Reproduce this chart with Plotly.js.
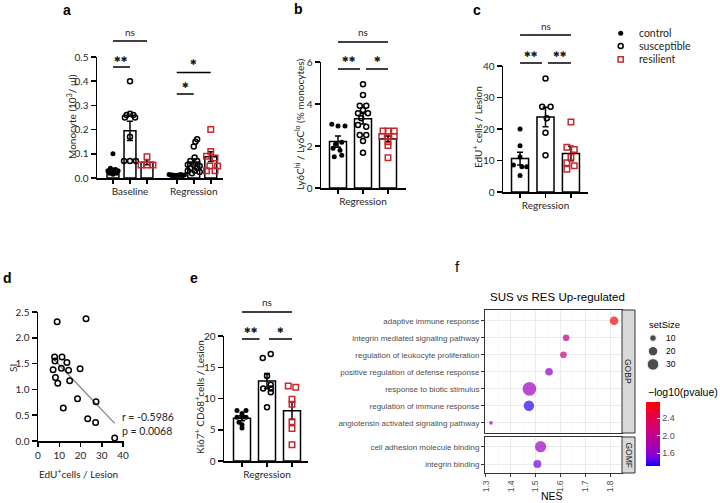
<!DOCTYPE html>
<html><head><meta charset="utf-8">
<script src="https://cdn.plot.ly/plotly-3.0.1.min.js"></script>
<style>html,body{margin:0;padding:0;background:#fff}#chart{width:720px;height:503px}</style>
</head><body><div id="chart"></div>
<script>
// ---------------- DATA ----------------
// Panel a: Monocyte (10^3/µl)
const aGroups = ['Baseline', 'Regression'];
const aMeans = [0.030, 0.195, 0.065, 0.012, 0.066, 0.088];
const aSems  = [0.010, 0.040, 0.010, 0.002, 0.012, 0.020];
const aBaseCtrl = [0.10, 0.04, 0.035, 0.03, 0.03, 0.025, 0.02, 0.02, 0.015];
const aBaseCtrlOff = [0, -0.15, 0.15, -0.3, 0.3, 0, -0.2, 0.2, 0];
const aBaseSus = [0.40, 0.26, 0.265, 0.26, 0.25, 0.25, 0.17, 0.07, 0.07, 0.07];
const aBaseSusOff = [0, -0.2, 0, 0.2, -0.3, 0.3, 0, -0.35, 0, 0.35];
const aBaseRes = [0.088, 0.054, 0.054, 0.054];
const aBaseResOff = [0, -0.35, 0, 0.35];
const aRegCtrl = [0.014, 0.012, 0.012, 0.010, 0.010, 0.011, 0.012, 0.014, 0.010, 0.012];
const aRegCtrlOff = [-0.45, -0.35, -0.25, -0.15, -0.05, 0.05, 0.15, 0.25, 0.35, 0.45];
const aRegSus = [0.16, 0.15, 0.13, 0.085, 0.07, 0.07, 0.055, 0.055, 0.05, 0.04, 0.04, 0.03, 0.03, 0.025, 0.02];
const aRegSusOff = [0.2, 0.1, 0, 0.05, -0.2, 0.2, -0.35, 0, 0.35, -0.2, 0.2, -0.35, 0.05, 0.35, -0.1];
const aRegRes = [0.20, 0.11, 0.09, 0.083, 0.05, 0.05, 0.03, 0.03];
const aRegResOff = [0, 0, -0.25, 0.25, -0.05, 0.4, -0.25, 0.25];

// Panel b: Ly6Chi / Ly6Clo (% monocytes)
const bMeans = [2.21, 3.30, 2.35];
const bSems  = [0.27, 0.25, 0.13];
const bCtrl = [3.03, 2.95, 2.95, 2.18, 2.08, 1.89, 1.80, 1.56, 1.49];
const bCtrlOff = [-0.25, 0, 0.28, 0.15, -0.1, -0.2, 0.08, 0.15, -0.15];
const bSus = [4.94, 4.43, 3.92, 3.92, 3.71, 3.56, 3.56, 3.32, 3.00, 2.92, 2.52, 2.52, 2.24, 1.68];
const bSusOff = [0, 0, -0.13, 0.13, 0, -0.2, 0.2, -0.07, -0.2, 0.13, -0.13, 0.13, 0, 0];
const bRes = [2.71, 2.71, 2.71, 2.45, 2.45, 2.45, 2.20, 2.02, 1.44];
const bResOff = [-0.2, 0, 0.25, -0.25, 0, 0.25, 0, 0, 0];

// Panel c: EdU+ cells / Lesion
const cMeans = [10.6, 23.8, 12.2];
const cSems  = [2.0, 3.1, 2.3];
const cCtrl = [20.0, 14.7, 11.1, 8.6, 8.0, 8.0, 5.2];
const cCtrlOff = [0, 0, 0, -0.26, 0.07, 0.26, 0];
const cSus = [36.0, 27.1, 27.1, 23.4, 18.8, 11.7];
const cSusOff = [0, -0.13, 0.2, 0.05, 0, 0];
const cRes = [22.2, 14.2, 13.5, 11.0, 9.3, 8.3, 7.2];
const cResOff = [0, -0.16, 0.13, 0, -0.16, 0.13, -0.16];

// Panel d: SI vs EdU+ cells / Lesion
const dEdU = [9.0, 22.6, 7.8, 8.0, 11.3, 13.6, 7.1, 11.0, 14.4, 19.8, 8.2, 14.9, 9.3, 18.6, 27.3, 11.9, 23.4, 27.1, 36.1];
const dSI  = [2.31, 2.37, 1.63, 1.55, 1.63, 1.52, 1.38, 1.41, 1.37, 1.40, 1.23, 1.17, 1.12, 0.82, 0.76, 0.64, 0.43, 0.36, 0.06];
const dStats = ['r = -0.5986', 'p = 0.0068'];

// Panel e: Ki67+ CD68+ cells / Lesion
const eMeans = [6.85, 12.8, 8.05];
const eSems  = [0.4, 1.2, 1.4];
const eCtrl = [8.1, 8.1, 7.6, 7.0, 7.0, 7.0, 6.2, 5.8, 5.3];
const eCtrlOff = [-0.2, 0.16, 0, -0.2, 0, 0.16, -0.12, 0, 0];
const eSus = [17.1, 16.5, 13.6, 12.2, 11.6, 11.6, 11.0, 8.6];
const eSusOff = [0.15, -0.17, 0, 0.15, -0.15, 0.15, 0.15, 0];
const eRes = [12.0, 11.8, 9.9, 9.1, 6.3, 5.2, 2.6];
const eResOff = [-0.15, 0.15, 0, 0, 0, 0, 0];

// Panel f: GSEA SUS vs RES
const fTermsBP = ['adaptive immune response', 'integrin mediated signaling pathway', 'regulation of leukocyte proliferation',
  'positive regulation of defense response', 'response to biotic stimulus', 'regulation of immune response',
  'angiotensin activated signaling pathway'];
const fNesBP  = [1.816, 1.623, 1.612, 1.554, 1.475, 1.473, 1.32];
const fSizeBP = [16, 10, 10, 13, 42, 24, 3];
const fPvBP   = [2.75, 2.0, 2.08, 1.62, 1.68, 1.39, 1.8];
const fTermsMF = ['cell adhesion molecule binding', 'integrin binding'];
const fNesMF  = [1.52, 1.507];
const fSizeMF = [28, 14];
const fPvMF   = [1.68, 1.5];
const fLegendSizes = [10, 20, 30];
const fCbTicks = [1.6, 2.0, 2.4];

const groupNames = ['control', 'susceptible', 'resilient'];

// ---------------- HELPERS ----------------
const W = 720, H = 503;
const X = p => p / W;
const Y = p => 1 - p / H;
const hd = (l, r) => [l / W, r / W];
const vd = (top, bot) => [1 - bot / H, 1 - top / H];
const FONT = 'Lato, "Open Sans", sans-serif';
const FF = '"Liberation Sans", Arial, sans-serif';
const RED = '#c8282d';
const TXT = '#262626';
const TICKF = {family: FONT, size: 10, color: TXT};

const styles = [
  {symbol: 'circle', size: 5, color: '#000', line: {width: 0}},
  {symbol: 'circle-open', size: 5, color: '#000', line: {width: 1.5}},
  {symbol: 'square-open', size: 5.5, color: RED, line: {width: 1.5}}
];

// tick-mark axis (one tick per bar, no labels)
function gpX(domain, range, tickvals, anchor, showLabels, ticktext) {
  return {domain, range, anchor, showline: true, linecolor: '#000', linewidth: 1.5,
    ticks: 'outside', ticklen: 4, tickwidth: 1.5, tickcolor: '#000',
    tickmode: 'array', tickvals, ticktext, showticklabels: !!showLabels, showgrid: false, zeroline: false,
    tickfont: TICKF, fixedrange: true};
}
// label-only axis overlaying a tick axis (group names at group centres)
function gpLab(overlay, range, tickvals, ticktext, anchor) {
  return {overlaying: overlay, range, anchor, side: 'bottom', showline: false,
    ticks: 'outside', ticklen: 4, tickwidth: 1, tickcolor: 'rgba(0,0,0,0)',
    tickmode: 'array', tickvals, ticktext, showgrid: false, zeroline: false,
    tickfont: TICKF, fixedrange: true};
}
function gpY(domain, range, tickvals, fmt, anchor) {
  return {domain, range, anchor, showline: true, linecolor: '#000', linewidth: 1.5,
    ticks: 'outside', ticklen: 5, tickwidth: 1.5, tickcolor: '#000',
    tickmode: 'array', tickvals, ticktext: tickvals.map(v => fmt ? v.toFixed(fmt) : String(v)),
    showgrid: false, zeroline: false, tickfont: TICKF, fixedrange: true};
}

const traces = [];
function bars(xs, means, sems, xa, ya, w) {
  traces.push({type: 'bar', x: xs, y: means, width: w, xaxis: xa, yaxis: ya,
    marker: {color: '#fff', line: {color: '#000', width: 1.5}},
    error_y: {type: 'data', array: sems, visible: true, color: '#000', thickness: 1.5, width: 3},
    hoverinfo: 'skip'});
}
function pts(center, vals, offs, g, xa, ya) {
  traces.push({type: 'scatter', mode: 'markers', x: vals.map((v, i) => center + offs[i]), y: vals,
    xaxis: xa, yaxis: ya, marker: styles[g], cliponaxis: false, hoverinfo: 'skip'});
}

// Panel a
const aPos = [0, 1, 2, 3.75, 4.75, 5.75];
bars(aPos, aMeans, aSems, 'x', 'y', 0.7);
pts(aPos[0], aBaseCtrl, aBaseCtrlOff, 0, 'x', 'y');
pts(aPos[1], aBaseSus, aBaseSusOff, 1, 'x', 'y');
pts(aPos[2], aBaseRes, aBaseResOff, 2, 'x', 'y');
pts(aPos[3], aRegCtrl, aRegCtrlOff, 0, 'x', 'y');
pts(aPos[4], aRegSus, aRegSusOff, 1, 'x', 'y');
pts(aPos[5], aRegRes, aRegResOff, 2, 'x', 'y');

// Panels b, c, e
const pos3 = [0, 1, 2];
bars(pos3, bMeans, bSems, 'x2', 'y2', 0.68);
pts(0, bCtrl, bCtrlOff, 0, 'x2', 'y2'); pts(1, bSus, bSusOff, 1, 'x2', 'y2'); pts(2, bRes, bResOff, 2, 'x2', 'y2');
bars(pos3, cMeans, cSems, 'x3', 'y3', 0.67);
pts(0, cCtrl, cCtrlOff, 0, 'x3', 'y3'); pts(1, cSus, cSusOff, 1, 'x3', 'y3'); pts(2, cRes, cResOff, 2, 'x3', 'y3');
bars(pos3, eMeans, eSems, 'x5', 'y5', 0.68);
pts(0, eCtrl, eCtrlOff, 0, 'x5', 'y5'); pts(1, eSus, eSusOff, 1, 'x5', 'y5'); pts(2, eRes, eResOff, 2, 'x5', 'y5');

// Panel d: scatter + least-squares line
(function () {
  const n = dEdU.length;
  const mx = dEdU.reduce((s, v) => s + v, 0) / n, my = dSI.reduce((s, v) => s + v, 0) / n;
  let sxy = 0, sxx = 0;
  for (let i = 0; i < n; i++) { sxy += (dEdU[i] - mx) * (dSI[i] - my); sxx += (dEdU[i] - mx) ** 2; }
  const b = sxy / sxx, a0 = my - b * mx;
  const x0 = Math.min(...dEdU), x1 = Math.max(...dEdU);
  traces.push({type: 'scatter', mode: 'lines', x: [x0, x1], y: [a0 + b * x0, a0 + b * x1], xaxis: 'x4', yaxis: 'y4',
    line: {color: '#7f7f7f', width: 1.2}, hoverinfo: 'skip'});
  traces.push({type: 'scatter', mode: 'markers', x: dEdU, y: dSI, xaxis: 'x4', yaxis: 'y4',
    marker: {symbol: 'circle-open', size: 5.5, color: '#000', line: {width: 1.5}}, cliponaxis: false, hoverinfo: 'skip'});
})();

// Panel f
const CS = [[0, 'rgb(0,0,255)'], [0.12, 'rgb(110,0,228)'], [0.25, 'rgb(154,0,195)'], [0.5, 'rgb(201,0,136)'], [0.75, 'rgb(232,0,79)'], [1, 'rgb(255,0,0)']];
const CMIN = 1.316, CMAX = 2.78, SREF = 1 / 2.25;
traces.push({type: 'scatter', mode: 'markers', x: fNesBP, y: fTermsBP, xaxis: 'x6', yaxis: 'y6',
  marker: {size: fSizeBP, sizemode: 'area', sizeref: SREF, color: fPvBP, colorscale: CS, cmin: CMIN, cmax: CMAX,
    line: {width: 0}, showscale: true,
    colorbar: {x: X(646), xanchor: 'left', y: Y(433.7), yanchor: 'middle', len: 64, lenmode: 'pixels',
      thickness: 14, outlinewidth: 0, xpad: 0, ypad: 0, tickmode: 'array', tickvals: fCbTicks,
      ticktext: fCbTicks.map(v => v.toFixed(1)), ticks: 'inside', ticklen: 3, tickcolor: '#fff',
      tickfont: {family: FF, size: 9, color: '#4d4d4d'}}},
  hoverinfo: 'skip'});
traces.push({type: 'scatter', mode: 'markers', x: fNesMF, y: fTermsMF, xaxis: 'x7', yaxis: 'y7',
  marker: {size: fSizeMF, sizemode: 'area', sizeref: SREF, color: fPvMF, colorscale: CS, cmin: CMIN, cmax: CMAX,
    line: {width: 0}, showscale: false}, hoverinfo: 'skip'});
traces.push({type: 'scatter', mode: 'markers', x: fLegendSizes.map(() => 0), y: fLegendSizes.map((v, i) => i),
  xaxis: 'x8', yaxis: 'y8', marker: {size: fLegendSizes, sizemode: 'area', sizeref: SREF, color: '#000'}, hoverinfo: 'skip'});

// ---------------- LAYOUT ----------------
const fGrid = {showgrid: true, gridcolor: '#ebebeb', gridwidth: 1, zeroline: false, showline: true, mirror: true,
  linecolor: '#333', linewidth: 1, fixedrange: true};
const fX = (dom, anchor, labels) => Object.assign({}, fGrid, {domain: dom, anchor, range: [1.296, 1.848],
  tickmode: 'array', tickvals: [1.3, 1.4, 1.5, 1.6, 1.7, 1.8], ticktext: ['1.3', '1.4', '1.5', '1.6', '1.7', '1.8'],
  ticks: labels ? 'outside' : '', ticklen: 3, tickcolor: '#333', showticklabels: labels, tickangle: -90,
  tickfont: {family: FF, size: 8.5, color: '#4d4d4d'},
  minor: {tickvals: [1.35, 1.45, 1.55, 1.65, 1.75], showgrid: true, gridcolor: '#f4f4f4', gridwidth: 0.6}});
const fY = (dom, anchor, cats, range) => Object.assign({}, fGrid, {domain: dom, anchor, type: 'category',
  categoryorder: 'array', categoryarray: cats, range, ticks: 'outside', ticklen: 3, tickcolor: '#333',
  tickfont: {family: FF, size: 8, color: '#4d4d4d'}});

const aRange = [-0.94, 6.47], bRange = [-0.68, 2.72], cRange = [-0.67, 2.67], eRange = [-0.72, 2.64];
const layout = {
  width: W, height: H, margin: {l: 0, r: 0, t: 0, b: 0}, paper_bgcolor: '#fff', plot_bgcolor: 'rgba(0,0,0,0)',
  showlegend: false, barmode: 'overlay',
  xaxis: gpX(hd(97, 223), aRange, aPos, 'y'),
  yaxis: gpY(vd(57, 178), [0, 0.5], [0, 0.1, 0.2, 0.3, 0.4, 0.5], 1, 'x'),
  xaxis2: gpX(hd(321, 406), bRange, pos3, 'y2'),
  yaxis2: gpY(vd(62, 188), [0, 6], [0, 2, 4, 6], 0, 'x2'),
  xaxis3: gpX(hd(503, 588), cRange, pos3, 'y3'),
  yaxis3: gpY(vd(66, 192), [0, 40], [0, 10, 20, 30, 40], 0, 'x3'),
  xaxis4: gpX(hd(38, 124), [0, 40.47], [0, 10, 20, 30, 40], 'y4', true, ['0', '10', '20', '30', '40']),
  yaxis4: gpY(vd(312, 441), [0, 2.5], [0, 0.5, 1.0, 1.5, 2.0, 2.5], 1, 'x4'),
  xaxis5: gpX(hd(224, 308), eRange, pos3, 'y5'),
  yaxis5: gpY(vd(336, 461), [0, 20], [0, 5, 10, 15, 20], 0, 'x5'),
  xaxis6: fX(hd(485, 622), 'y6', false),
  yaxis6: fY(vd(310, 433), 'x6', fTermsBP, [6.6, -0.63]),
  xaxis7: fX(hd(485, 622), 'y7', true),
  yaxis7: fY(vd(437, 473), 'x7', fTermsMF, [1.52, -0.56]),
  xaxis8: {domain: hd(643, 663), anchor: 'y8', range: [-1, 1], visible: false, fixedrange: true},
  yaxis8: {domain: vd(331.5, 371), anchor: 'x8', range: [2.5, -0.5], visible: false, fixedrange: true},
  // group-label axes
  xaxis9: gpLab('x', aRange, [aPos[1], aPos[4]], aGroups, 'y'),
  xaxis10: gpLab('x2', bRange, [1], ['Regression'], 'y2'),
  xaxis11: gpLab('x3', cRange, [1], ['Regression'], 'y3'),
  xaxis12: gpLab('x5', eRange, [1], ['Regression'], 'y5'),
  shapes: [], annotations: []
};
// tiny invisible anchors so the label axes are drawn
[['x9', 'y'], ['x10', 'y2'], ['x11', 'y3'], ['x12', 'y5']].forEach(p =>
  traces.push({type: 'scatter', mode: 'markers', x: [], y: [], xaxis: p[0], yaxis: p[1], hoverinfo: 'skip'}));

const A = layout.annotations, S = layout.shapes;
function txt(text, px, py, o) {
  A.push(Object.assign({text, x: X(px), y: Y(py), xref: 'paper', yref: 'paper', showarrow: false,
    xanchor: 'center', yanchor: 'middle',
    font: {family: FONT, size: 10.5, color: TXT}}, o || {}));
}
// panel letters
[['a', 67, 10], ['b', 298, 9], ['c', 477, 10], ['d', 7, 278], ['e', 194, 278]].forEach(l =>
  txt('<b>' + l[0] + '</b>', l[1], l[2], {font: {family: FF, size: 14, color: '#000'}}));
txt('f', 457, 266, {font: {family: FF, size: 15, color: '#000'}});

// axis titles
const titleFont = {family: FONT, size: 10, color: TXT};
txt('Monocyte (10<sup>3</sup>/ µl)', 72, 117, {textangle: -90, font: titleFont});
txt('Ly6C<sup>hi</sup> / Ly6C<sup>lo</sup> (% monocytes)', 300, 125, {textangle: -90, font: titleFont});
txt('EdU<sup>+</sup> cells / Lesion', 477, 127, {textangle: -90, font: titleFont});
txt('SI', 13, 368, {textangle: -90, font: titleFont});
txt('EdU<sup>+</sup>cells / Lesion', 78, 473, {font: titleFont});
txt('Ki67<sup>+</sup> CD68<sup>+</sup>cells / Lesion', 199, 397, {textangle: -90, font: titleFont});
// d stats
txt(dStats[0], 120, 417, {xanchor: 'left', font: {family: FONT, size: 10.5, color: TXT}});
txt(dStats[1], 120, 431, {xanchor: 'left', font: {family: FONT, size: 10.5, color: TXT}});

// significance brackets
const STAR = '\u2731';
function sig(xa, x0, x1, pyLine, label, pyText) {
  S.push({type: 'line', xref: xa, yref: 'paper', x0, x1, y0: Y(pyLine), y1: Y(pyLine), line: {color: '#000', width: 1.5}});
  const star = label !== 'ns';
  A.push({text: star ? label.replace(/\*/g, STAR) : label, xref: xa, yref: 'paper', x: (x0 + x1) / 2, y: Y(pyText),
    xanchor: 'center', yanchor: 'middle', showarrow: false,
    font: star ? {family: '"DejaVu Sans", sans-serif', size: 8, color: '#1a1a1a'} : {family: FONT, size: 10, color: TXT}});
}
sig('x', 0, 2, 41, 'ns', 32); sig('x', 0, 1, 67, '**', 59);
sig('x', 3.75, 5.75, 72.5, '*', 63); sig('x', 3.75, 4.75, 94, '*', 85);
sig('x2', 0, 2, 42, 'ns', 32); sig('x2', 0, 0.88, 69, '**', 60); sig('x2', 1.12, 2, 69, '*', 60);
sig('x3', 0, 2, 35, 'ns', 26); sig('x3', 0, 0.86, 63, '**', 54); sig('x3', 1.1, 2, 63, '**', 54);
sig('x5', 0, 2, 312, 'ns', 302); sig('x5', 0, 0.7, 339, '**', 330); sig('x5', 1.08, 2, 339, '*', 330);

// group legend (top right)
[[33.3, 0], [46, 1], [59.3, 2]].forEach(r => {
  const g = r[1], cx = X(620.7), cy = Y(r[0]);
  const base = {xref: 'paper', yref: 'paper', xsizemode: 'pixel', ysizemode: 'pixel', xanchor: cx, yanchor: cy};
  if (g === 0) S.push(Object.assign({type: 'circle', x0: -2.5, x1: 2.5, y0: -2.5, y1: 2.5, fillcolor: '#000', line: {width: 0}}, base));
  if (g === 1) S.push(Object.assign({type: 'circle', x0: -2.5, x1: 2.5, y0: -2.5, y1: 2.5, fillcolor: '#fff', line: {color: '#000', width: 1.5}}, base));
  if (g === 2) S.push(Object.assign({type: 'rect', x0: -2.6, x1: 2.6, y0: -2.6, y1: 2.6, fillcolor: '#fff', line: {color: RED, width: 1.5}}, base));
  txt(groupNames[g], 636.5, r[0], {xanchor: 'left', font: {family: FONT, size: 10.5, color: TXT}});
});

// panel f texts and strips
txt('SUS vs RES Up-regulated', 557, 297, {font: {family: FF, size: 11.5, color: '#000'}});
txt('NES', 552, 496, {font: {family: FF, size: 10.5, color: '#000'}});
S.push({type: 'rect', xref: 'paper', yref: 'paper', x0: X(622), x1: X(635), y0: Y(310), y1: Y(433), fillcolor: '#d9d9d9', line: {color: '#333', width: 1}});
S.push({type: 'rect', xref: 'paper', yref: 'paper', x0: X(622), x1: X(635), y0: Y(437), y1: Y(473), fillcolor: '#d9d9d9', line: {color: '#333', width: 1}});
txt('GOBP', 628.5, 371.5, {textangle: 90, font: {family: FF, size: 8.5, color: '#1a1a1a'}});
txt('GOMF', 628.5, 455, {textangle: 90, font: {family: FF, size: 8.5, color: '#1a1a1a'}});
txt('setSize', 647, 324, {xanchor: 'left', font: {family: FF, size: 9.5, color: '#000'}});
fLegendSizes.forEach((v, i) => txt(String(v), 664, 338 + i * 13.2, {xanchor: 'left', font: {family: FF, size: 8.5, color: '#000'}}));
txt('\u2212log10(pvalue)', 646, 392, {xanchor: 'left', font: {family: FF, size: 10.5, color: '#000'}});

Plotly.newPlot('chart', traces, layout, {staticPlot: true, displayModeBar: false});
</script></body></html>
